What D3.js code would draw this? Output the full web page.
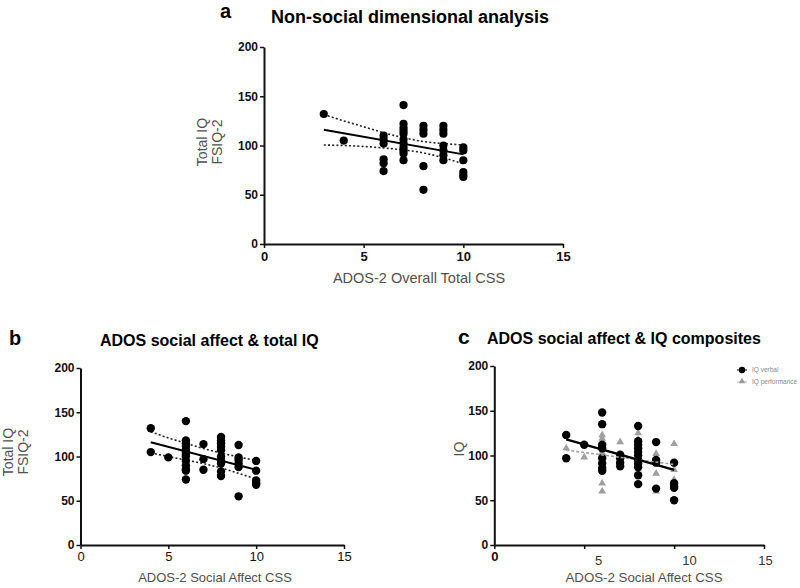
<!DOCTYPE html>
<html><head><meta charset="utf-8">
<script src="https://cdn.jsdelivr.net/npm/d3@7"></script>
<style>
html,body{margin:0;padding:0;background:#fff;}
svg{display:block;font-family:"Liberation Sans",Arial,sans-serif;}
</style></head>
<body><svg id="c" width="800" height="588"></svg>
<script>
// ---------- DATA ----------
const xTicks = [0, 5, 10, 15];
const yTicks = [0, 50, 100, 150, 200];

// Panel a: ADOS-2 Overall Total CSS vs Total IQ (FSIQ-2)
const aCSS = [3, 4, 6, 7, 8, 9, 10];
const aIQ = [
  [132],
  [105],
  [110, 106, 102, 86, 82, 74],
  [141, 122, 118, 115, 112, 106, 102, 98, 95, 92, 85],
  [120, 116, 112, 79, 55],
  [120, 116, 112, 100, 95, 90, 85],
  [98, 95, 85, 73, 70, 68]
];
const aFitX = [3, 10];
const aFitY = [116, 91];
const aBandX = [3, 4, 5, 6, 7, 8, 9, 10];
const aBandUpper = [131.5, 125, 119, 113, 108, 104, 102, 100.5];
const aBandLower = [100.5, 100, 99, 97.5, 95.5, 92.5, 87.5, 81.5];

// Panel b: ADOS-2 Social Affect CSS vs Total IQ
const bCSS = [4, 5, 6, 7, 8, 9, 10];
const bIQ = [
  [132, 105],
  [99],
  [140, 118, 115, 112, 108, 105, 102, 100, 95, 90, 86, 84, 74],
  [114, 97, 85],
  [122, 118, 115, 111, 107, 100, 96, 92, 83, 78],
  [113, 99, 96, 92, 88, 55],
  [95, 84, 73, 70, 68]
];
const bFitX = [4, 10];
const bFitY = [116, 85];
const bBandX = [4, 5, 6, 7, 8, 9, 10];
const bBandUpper = [128, 121, 115, 109, 104, 99.5, 95.5];
const bBandLower = [104, 100, 96, 92, 87, 81, 74.5];

// Panel c: ADOS-2 Social Affect CSS vs IQ composites
const cCSS = [4, 5, 6, 7, 8, 9, 10];
const cVerbal = [
  [123, 97],
  [112],
  [148, 135, 112, 108, 97, 91, 86, 83],
  [101, 97, 92, 88],
  [133, 116, 112, 108, 104, 100, 95, 91, 87, 78, 68],
  [115, 95, 92, 63],
  [92, 69, 66, 64, 50]
];
const cPerformance = [
  [108],
  [98],
  [123, 119, 103, 69, 60],
  [115, 98],
  [125, 118, 105, 95, 85],
  [102, 80, 60],
  [113, 84, 73]
];
const cVerbalFitX = [4, 10];
const cVerbalFitY = [118, 84];
const cPerfFitX = [4, 10];
const cPerfFitY = [106, 90];
const cLegend = ["IQ verbal", "IQ performance"];

// ---------- DRAW ----------
const svg = d3.select("#c");
const FONT = '"Liberation Sans",Arial,sans-serif';
const GRAY = "#505050";

function flatten(xs, groups) {
  const out = [];
  xs.forEach((x, i) => groups[i].forEach(v => out.push([x, v])));
  return out;
}

function makeAxes(cfg) {
  const x = d3.scaleLinear().domain([0, 15]).range([cfg.x0, cfg.x1]);
  const y = d3.scaleLinear().domain([0, 200]).range([cfg.y0, cfg.y1]);
  const gy = svg.append("g").attr("transform", `translate(${cfg.x0},0)`)
    .call(d3.axisLeft(y).tickValues(yTicks).tickSize(4).tickSizeOuter(0).tickFormat(d3.format("d")));
  const gx = svg.append("g").attr("transform", `translate(0,${cfg.y0})`)
    .call(d3.axisBottom(x).tickValues(xTicks).tickSize(4).tickSizeOuter(0).tickFormat(d3.format("d")));
  [gx, gy].forEach(g => {
    g.select(".domain").attr("stroke", "#111").attr("stroke-width", 2);
    g.selectAll(".tick line").attr("stroke", "#111").attr("stroke-width", 1.5);
    g.selectAll(".tick text").attr("fill", "#111").attr("font-family", FONT);
  });
  gy.selectAll(".tick text").attr("font-size", 12).attr("font-weight", "bold").attr("x", -6);
  gx.selectAll(".tick text").attr("font-size", cfg.xTickSize).attr("font-weight", cfg.xTickWeight).attr("y", cfg.xTickY);
  return {x, y, gx, gy};
}

function drawBands(s, bx, up, lo) {
  const line = d3.line().x(d => s.x(d[0])).y(d => s.y(d[1])).curve(d3.curveMonotoneX);
  [up, lo].forEach(arr => {
    svg.append("path").datum(bx.map((v, i) => [v, arr[i]]))
      .attr("d", line).attr("fill", "none").attr("stroke", "#222")
      .attr("stroke-width", 1.6).attr("stroke-dasharray", "2,2.2");
  });
}
function drawFit(s, fx, fy, color, width, dash) {
  const line = d3.line().x(d => s.x(d[0])).y(d => s.y(d[1]));
  const p = svg.append("path").datum(fx.map((v, i) => [v, fy[i]]))
    .attr("d", line).attr("fill", "none").attr("stroke", color).attr("stroke-width", width);
  if (dash) p.attr("stroke-dasharray", dash);
}
function drawDots(s, pts, r) {
  svg.append("g").selectAll("circle").data(pts).join("circle")
    .attr("cx", d => s.x(d[0])).attr("cy", d => s.y(d[1])).attr("r", r).attr("fill", "#000");
}
function txt(x, y, str, size, weight, fill, anchor, rot) {
  const t = svg.append("text").attr("x", x).attr("y", y).text(str)
    .attr("font-size", size).attr("font-weight", weight || "normal")
    .attr("fill", fill || "#000").attr("text-anchor", anchor || "start").attr("font-family", FONT);
  if (rot) t.attr("transform", `rotate(${rot},${x},${y})`);
  return t;
}

// ----- Panel a -----
const A = makeAxes({x0: 264, x1: 563, y0: 244, y1: 47, xTickSize: 13, xTickWeight: "bold", xTickY: 8});
drawBands(A, aBandX, aBandUpper, aBandLower);
drawFit(A, aFitX, aFitY, "#000", 2);
drawDots(A, flatten(aCSS, aIQ), 4.1);
txt(220, 18, "a", 20, "bold");
txt(271, 23, "Non-social dimensional analysis", 18, "bold");
txt(207, 142, "Total IQ", 14, "normal", GRAY, "middle", -90);
txt(222, 142, "FSIQ-2", 14, "normal", GRAY, "middle", -90);
txt(419, 283, "ADOS-2 Overall Total CSS", 14.5, "normal", GRAY, "middle");

// ----- Panel b -----
const B = makeAxes({x0: 80.5, x1: 344, y0: 545, y1: 368, xTickSize: 13, xTickWeight: "normal", xTickY: 7});
drawBands(B, bBandX, bBandUpper, bBandLower);
drawFit(B, bFitX, bFitY, "#000", 2);
drawDots(B, flatten(bCSS, bIQ), 4.2);
txt(9, 345, "b", 20, "bold");
txt(100, 346, "ADOS social affect & total IQ", 16, "bold");
txt(13, 452, "Total IQ", 14, "normal", GRAY, "middle", -90);
txt(28, 452, "FSIQ-2", 14, "normal", GRAY, "middle", -90);
txt(215, 582, "ADOS-2 Social Affect CSS", 13, "normal", GRAY, "middle");

// ----- Panel c -----
const C = makeAxes({x0: 494.3, x1: 764, y0: 545, y1: 366, xTickSize: 13, xTickWeight: "normal", xTickY: 11});
// tick labels 5/10/15 sit slightly offset in the original figure
const cLabelShift = {0: 0, 5: 14, 10: 15, 15: 1};
C.gx.selectAll(".tick text")
  .attr("dx", d => cLabelShift[d])
  .attr("font-weight", d => d === 0 ? "bold" : "normal")
  .attr("y", d => d === 0 ? 7 : 11)
  .attr("fill", d => d === 0 ? "#111" : "#333");
const tri = d3.symbol().type(d3.symbolTriangle).size(26);
svg.append("g").selectAll("path").data(flatten(cCSS, cPerformance)).join("path")
  .attr("d", tri).attr("transform", d => `translate(${C.x(d[0])},${C.y(d[1])})`)
  .attr("fill", "#a0a0a0");
drawDots(C, flatten(cCSS, cVerbal), 4.2);
drawFit(C, cPerfFitX, cPerfFitY, "#a0a0a0", 1.6, "3,2");
drawFit(C, cVerbalFitX, cVerbalFitY, "#000", 2.2);
txt(458, 344, "c", 21, "bold");
txt(487, 344, "ADOS social affect & IQ composites", 16, "bold");
txt(464, 449, "IQ", 14, "normal", GRAY, "middle", -90);
txt(644, 582, "ADOS-2 Social Affect CSS", 13.3, "normal", GRAY, "middle");

// legend
const lg = svg.append("g");
lg.append("line").attr("x1", 737).attr("x2", 747).attr("y1", 370).attr("y2", 370).attr("stroke", "#000").attr("stroke-width", 1);
lg.append("circle").attr("cx", 742).attr("cy", 370).attr("r", 3.2).attr("fill", "#000");
lg.append("line").attr("x1", 737).attr("x2", 747).attr("y1", 382).attr("y2", 382).attr("stroke", "#aaa").attr("stroke-width", 1);
lg.append("path").attr("d", d3.symbol().type(d3.symbolTriangle).size(18)).attr("transform", "translate(742,381.5)").attr("fill", "#999");
lg.selectAll("text").data(cLegend).join("text")
  .attr("x", 752).attr("y", (d, i) => 372 + i * 12).text(d => d)
  .attr("font-size", 6.5).attr("fill", "#888").attr("font-family", FONT);
</script></body></html>
